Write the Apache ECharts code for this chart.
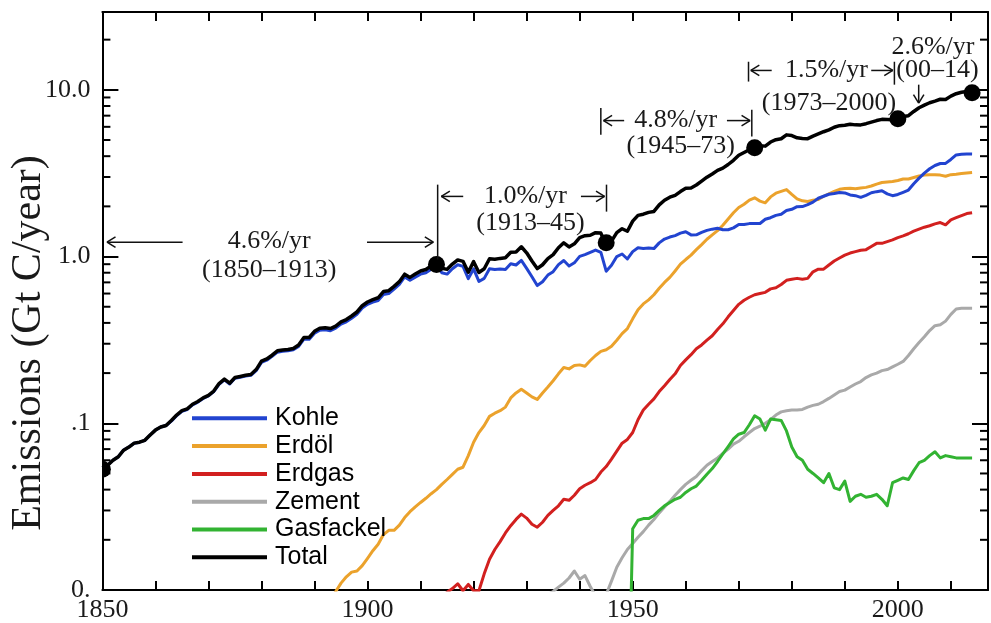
<!DOCTYPE html>
<html><head><meta charset="utf-8">
<script src="https://cdn.jsdelivr.net/npm/echarts@6/dist/echarts.min.js"></script>
<style>html,body{margin:0;padding:0;background:#fff}#c{width:991px;height:623px}</style>
</head><body><div id="c"></div>
<script>
// ---------- data (Gt C / year) ----------
const xTickLabels = ['1850', '1900', '1950', '2000'];
const yTickLabels = {'-2': '0.', '-1': '.1', '0': '1.0', '1': '10.0'};
const minorTickVals = [0.02,0.03,0.04,0.05,0.06,0.07,0.08,0.09,0.2,0.3,0.4,0.5,0.6,0.7,0.8,0.9,2,3,4,5,6,7,8,9,20];

const totalStart = 1850;
const total = [
 0.054,0.056,0.060,0.063,0.069,0.072,0.076,0.077,0.079,0.085,
 0.091,0.095,0.097,0.104,0.112,0.119,0.122,0.130,0.135,0.142,
 0.147,0.156,0.173,0.184,0.174,0.188,0.191,0.194,0.196,0.210,
 0.236,0.243,0.256,0.272,0.275,0.277,0.281,0.295,0.327,0.327,
 0.356,0.372,0.374,0.370,0.383,0.406,0.419,0.440,0.465,0.507,
 0.534,0.552,0.566,0.617,0.624,0.663,0.707,0.784,0.750,0.785,
 0.819,0.836,0.879,0.943,0.850,0.838,0.901,0.955,0.936,0.806,
 0.932,0.803,0.845,0.970,0.963,0.975,0.983,1.062,1.065,1.145,
 1.053,0.940,0.847,0.893,0.973,1.027,1.130,1.209,1.142,1.192,
 1.299,1.334,1.342,1.391,1.383,1.160,1.238,1.392,1.469,1.419,
 1.630,1.767,1.795,1.841,1.865,2.042,2.177,2.270,2.330,2.454,
 2.569,2.580,2.686,2.833,2.995,3.130,3.288,3.393,3.566,3.780,
 4.053,4.208,4.376,4.614,4.623,4.596,4.864,5.026,5.087,5.369,
 5.315,5.152,5.113,5.094,5.280,5.439,5.607,5.752,5.965,6.097,
 6.127,6.217,6.164,6.162,6.266,6.398,6.542,6.651,6.643,6.610,
 6.765,6.927,6.996,7.416,7.807,8.093,8.370,8.566,8.783,8.740,
 9.167,9.481,9.671,9.775,9.855];

const coalStart = 1850;
const coal = [
 0.054,0.056,0.060,0.063,0.069,0.072,0.076,0.077,0.079,0.085,
 0.091,0.095,0.097,0.103,0.111,0.118,0.121,0.129,0.134,0.141,
 0.146,0.155,0.171,0.182,0.172,0.186,0.189,0.192,0.194,0.207,
 0.232,0.239,0.252,0.267,0.270,0.272,0.276,0.289,0.320,0.319,
 0.347,0.362,0.364,0.359,0.372,0.394,0.406,0.426,0.450,0.491,
 0.517,0.533,0.545,0.593,0.600,0.638,0.681,0.755,0.720,0.753,
 0.785,0.800,0.840,0.900,0.800,0.785,0.845,0.893,0.873,0.737,
 0.843,0.709,0.740,0.845,0.836,0.842,0.835,0.905,0.890,0.948,
 0.850,0.757,0.670,0.706,0.774,0.812,0.894,0.947,0.878,0.917,
 1.002,1.028,1.061,1.094,1.060,0.817,0.886,1.000,1.036,0.967,
 1.070,1.129,1.119,1.125,1.116,1.208,1.273,1.309,1.336,1.382,
 1.410,1.349,1.351,1.396,1.435,1.460,1.478,1.448,1.448,1.486,
 1.556,1.559,1.576,1.581,1.579,1.673,1.710,1.766,1.793,1.887,
 1.921,1.992,1.995,2.047,2.120,2.237,2.300,2.364,2.388,2.422,
 2.409,2.341,2.318,2.265,2.331,2.414,2.451,2.480,2.376,2.318,
 2.357,2.429,2.505,2.736,2.955,3.168,3.364,3.517,3.615,3.620,
 3.824,4.070,4.102,4.123,4.117];

const oilStart = 1892;
const oil = [
 0.0075,0.0085,0.0098,0.0110,0.0120,0.0128,0.0130,0.0140,
 0.0155,0.0172,0.0188,0.0215,0.0228,0.0228,0.0245,0.0272,0.0295,0.0315,
 0.0335,0.0355,0.0378,0.0400,0.0430,0.0460,0.0494,0.0530,0.0545,0.0640,
 0.0770,0.0880,0.0970,0.1100,0.1150,0.1190,0.1250,0.1420,0.1520,0.1600,
 0.1520,0.1440,0.1390,0.1520,0.1650,0.1800,0.1980,0.2160,0.2120,0.2220,
 0.2240,0.2200,0.2380,0.2550,0.2700,0.2760,0.2900,0.3150,0.3450,0.3700,
 0.4230,0.4800,0.5200,0.5500,0.5900,0.6450,0.7000,0.7500,0.8200,0.9000,
 0.9600,1.0200,1.1000,1.1800,1.2700,1.3500,1.4300,1.5400,1.6800,1.8300,
 1.9700,2.0600,2.1800,2.2500,2.1500,2.1000,2.2800,2.4000,2.4600,2.5200,
 2.3600,2.2200,2.1600,2.1400,2.1800,2.2000,2.3000,2.3800,2.4600,2.5300,
 2.5600,2.5700,2.5500,2.5800,2.6000,2.6500,2.7200,2.7800,2.8000,2.8200,
 2.8600,2.9200,2.9200,2.9800,3.0400,3.0800,3.1000,3.1000,3.0800,3.0300,
 3.1000,3.1200,3.1500,3.1700,3.1900];

const gasStart = 1914;
const gas = [
 0.0088,0.0097,0.0102,0.0109,0.0099,0.0108,
 0.0099,0.0099,0.0125,0.0153,0.0175,0.0195,0.0220,0.0243,0.0265,0.0285,
 0.0270,0.0248,0.0238,0.0255,0.0280,0.0300,0.0320,0.0350,0.0345,0.0370,
 0.0405,0.0425,0.0440,0.0460,0.0510,0.0550,0.0610,0.0680,0.0760,0.0800,
 0.0880,0.1050,0.1200,0.1300,0.1400,0.1550,0.1680,0.1830,0.1980,0.2220,
 0.2400,0.2580,0.2800,0.2950,0.3150,0.3350,0.3650,0.3950,0.4350,0.4750,
 0.5170,0.5470,0.5700,0.5900,0.6000,0.6100,0.6400,0.6500,0.6800,0.7200,
 0.7300,0.7400,0.7300,0.7400,0.8100,0.8400,0.8400,0.8900,0.9400,0.9800,
 1.0200,1.0500,1.0700,1.0900,1.1000,1.1500,1.2000,1.2000,1.2300,1.2600,
 1.3000,1.3300,1.3700,1.4200,1.4600,1.5000,1.5300,1.5700,1.6000,1.5500,
 1.6600,1.7100,1.7600,1.8100,1.8300];

const cementStart = 1933;
const cement = [
 0.0088,0.0094,0.0098,0.0104,0.0110,0.0118,0.0130,0.0116,0.0122,0.0105,0.0092,0.0086,0.0094,0.0113,0.0137,0.0156,0.0175,
 0.0190,0.0207,0.0224,0.0245,0.0265,0.0290,0.0315,0.0340,0.0370,0.0400,
 0.0430,0.0455,0.0480,0.0520,0.0560,0.0590,0.0620,0.0660,0.0700,0.0750,
 0.0780,0.0830,0.0880,0.0930,0.0960,0.1000,0.1050,0.1120,0.1170,0.1190,
 0.1200,0.1200,0.1210,0.1250,0.1280,0.1300,0.1350,0.1410,0.1480,0.1550,
 0.1580,0.1650,0.1720,0.1780,0.1880,0.1950,0.2000,0.2070,0.2100,0.2180,
 0.2260,0.2350,0.2550,0.2800,0.3050,0.3300,0.3600,0.3850,0.3900,0.4100,
 0.4500,0.4850,0.4900,0.4900,0.4900];

const flareStart = 1949;
const flare = [
 0.0010,0.0233,0.0262,0.0268,0.0268,0.0280,0.0300,0.0320,0.0335,0.0350,0.0360,
 0.0385,0.0405,0.0420,0.0455,0.0495,0.0535,0.0590,0.0655,0.0725,0.0805,
 0.0860,0.0880,0.0980,0.1110,0.1060,0.0910,0.1060,0.1050,0.1040,0.0900,
 0.0720,0.0630,0.0600,0.0530,0.0500,0.0470,0.0440,0.0500,0.0410,0.0400,
 0.0450,0.0340,0.0365,0.0375,0.0360,0.0365,0.0375,0.0350,0.0320,0.0440,
 0.0455,0.0470,0.0460,0.0520,0.0580,0.0600,0.0640,0.0675,0.0620,0.0640,
 0.0630,0.0620,0.0620,0.0620,0.0620];

const dotYears = [1850, 1913, 1945, 1973, 2000, 2014];
const dotVals  = [0.053, 0.895, 1.21, 4.5, 6.7, 9.6];

// annotation arrows: [year1, value1, year2, value2, arrowhead at end]
const annoArrows = [
  [1865.12, 1.22, 1850.86, 1.22, 1],
  [1899.90, 1.22, 1912.41, 1.22, 1],
  [1913.22, 2.70, 1913.22, 0.96, 0],
  [1918.04, 2.295, 1913.91, 2.295, 1],
  [1940.24, 2.295, 1944.69, 2.295, 1],
  [1945.06, 2.70, 1945.06, 1.86, 0],
  [1943.99, 7.77, 1943.99, 5.38, 0],
  [1948.39, 6.54, 1944.50, 6.54, 1],
  [1967.77, 6.54, 1972.14, 6.54, 1],
  [1972.46, 7.59, 1972.46, 5.25, 0],
  [1971.84, 14.74, 1971.84, 11.21, 0],
  [1976.21, 13.07, 1972.27, 13.07, 1],
  [1994.98, 13.07, 1999.05, 13.07, 1],
  [1999.35, 14.74, 1999.35, 10.74, 0],
  [2003.93, 10.74, 2003.93, 8.33, 1]
];
// annotation texts: [text, year, value]
const annoTexts = [
  ['4.6%/yr', 1881.45, 1.23],
  ['(1850–1913)', 1881.45, 0.824],
  ['1.0%/yr', 1929.77, 2.29],
  ['(1913–45)', 1930.71, 1.577],
  ['4.8%/yr', 1958.11, 6.54],
  ['(1945–73)', 1959.05, 4.62],
  ['1.5%/yr', 1986.54, 13.07],
  ['(1973–2000)', 1987.0, 8.36],
  ['2.6%/yr', 2006.61, 18.1],
  ['(00–14)', 2007.46, 13.07]
];

// ---------- chart ----------
const X_MIN = 1850, X_MAX = 2017, Y_MIN = 0.01, Y_MAX = 29.3;
const SERIF = "'Liberation Serif','Times New Roman',serif";
const SANS = "'Liberation Sans',Arial,sans-serif";
const pairs = (start, vals) => vals.map((v, i) => [start + i, v]);

function lineSeries(name, start, vals, color, width, z) {
  return {
    name, type: 'line', data: pairs(start, vals), showSymbol: false, symbol: 'none',
    clip: true, z, silent: true,
    lineStyle: {color, width, join: 'round'}, itemStyle: {color}
  };
}

function renderMinor(params, api) {
  const v = api.value(1);
  const pL = api.coord([X_MIN, v]);
  const pR = api.coord([X_MAX, v]);
  const st = {stroke: '#000', lineWidth: 2};
  return {type: 'group', children: [
    {type: 'line', shape: {x1: pL[0], y1: pL[1], x2: pL[0] + 8, y2: pL[1]}, style: st},
    {type: 'line', shape: {x1: pR[0] - 8, y1: pR[1], x2: pR[0], y2: pR[1]}, style: st}
  ]};
}

function renderDot(params, api) {
  const p = api.coord([api.value(0), api.value(1)]);
  return {type: 'circle', shape: {cx: p[0], cy: p[1], r: 8.5}, style: {fill: '#000'}};
}

function renderArrow(params, api) {
  const p1 = api.coord([api.value(0), api.value(1)]);
  const p2 = api.coord([api.value(2), api.value(3)]);
  const st = {stroke: '#111', lineWidth: 1.5};
  const children = [{type: 'line', shape: {x1: p1[0], y1: p1[1], x2: p2[0], y2: p2[1]}, style: st}];
  if (api.value(4)) {
    const ang = Math.atan2(p2[1] - p1[1], p2[0] - p1[0]);
    const L = 10, a = 0.55;
    [-1, 1].forEach(s => {
      children.push({type: 'line', shape: {
        x1: p2[0], y1: p2[1],
        x2: p2[0] - L * Math.cos(ang + s * a), y2: p2[1] - L * Math.sin(ang + s * a)
      }, style: st});
    });
  }
  return {type: 'group', children};
}

const chart = echarts.init(document.getElementById('c'), null, {renderer: 'canvas'});
chart.setOption({
  animation: false,
  backgroundColor: '#fff',
  grid: {left: 102.4, right: -1.5, top: 12, bottom: 32, containLabel: false},
  xAxis: [{
    type: 'value', min: X_MIN, max: X_MAX, interval: 10, position: 'bottom',
    axisLine: {show: true, lineStyle: {color: '#000', width: 2}},
    axisTick: {show: true, inside: true, length: 9, lineStyle: {color: '#000', width: 2}},
    splitLine: {show: false},
    axisLabel: {
      margin: 7, color: '#1a1a1a', fontFamily: SERIF, fontSize: 26,
      formatter: v => (xTickLabels.indexOf(String(v)) >= 0 ? String(v) : '')
    }
  }, {
    type: 'value', min: X_MIN, max: X_MAX, interval: 10, position: 'top',
    axisLine: {show: true, lineStyle: {color: '#000', width: 2}},
    axisTick: {show: true, inside: true, length: 9, lineStyle: {color: '#000', width: 2}},
    splitLine: {show: false}, axisLabel: {show: false}
  }],
  yAxis: [{
    type: 'log', logBase: 10, min: Y_MIN, max: Y_MAX, position: 'left',
    axisLine: {show: true, lineStyle: {color: '#000', width: 2}},
    axisTick: {show: true, inside: true, length: 16, lineStyle: {color: '#000', width: 2}},
    splitLine: {show: false},
    axisLabel: {
      margin: 12, color: '#1a1a1a', fontFamily: SERIF, fontSize: 26,
      formatter: v => {
        const e = Math.log10(v), r = Math.round(e);
        if (Math.abs(e - r) > 1e-6) return '';
        return yTickLabels[String(r)] || '';
      }
    }
  }, {
    type: 'log', logBase: 10, min: Y_MIN, max: Y_MAX, position: 'right',
    axisLine: {show: true, lineStyle: {color: '#000', width: 2}},
    axisTick: {show: true, inside: true, length: 16, lineStyle: {color: '#000', width: 2}},
    splitLine: {show: false}, axisLabel: {show: false}
  }],
  legend: {
    orient: 'vertical', left: 192, top: 404.4, padding: 0,
    itemWidth: 75, itemHeight: 4, itemGap: 0, icon: 'rect', selectedMode: false,
    data: ['Kohle', 'Erdöl', 'Erdgas', 'Zement', 'Gasfackel', 'Total'],
    textStyle: {fontFamily: SANS, fontSize: 25, color: '#000', lineHeight: 27.8, padding: [0, 0, 0, 3]}
  },
  graphic: [{
    type: 'text', x: 29, y: 343, rotation: Math.PI / 2,
    style: {
      text: 'Emissions (Gt C/year)', fontFamily: SERIF, fontSize: 42, fill: '#1a1a1a',
      align: 'center', verticalAlign: 'middle', textAlign: 'center', textVerticalAlign: 'middle'
    }
  }],
  series: [
    {
      type: 'custom', name: 'minorTicks', renderItem: renderMinor, silent: true, clip: false, z: 3,
      data: minorTickVals.map(v => [X_MIN, v]), encode: {x: 0, y: 1}
    },
    lineSeries('Zement', cementStart, cement, '#a9a9a9', 3, 2),
    lineSeries('Gasfackel', flareStart, flare, '#32b332', 3, 2),
    lineSeries('Erdgas', gasStart, gas, '#d2201f', 3, 2),
    lineSeries('Erdöl', oilStart, oil, '#eba22c', 3, 2),
    lineSeries('Kohle', coalStart, coal, '#2244d0', 3, 2),
    lineSeries('Total', totalStart, total, '#000000', 3.5, 2),
    {
      type: 'custom', name: 'dots', renderItem: renderDot, silent: true, clip: true, z: 4,
      data: dotYears.map((y, i) => [y, dotVals[i]]), encode: {x: 0, y: 1}
    },
    {
      type: 'custom', name: 'arrows', renderItem: renderArrow, silent: true, clip: false, z: 5,
      data: annoArrows, encode: {x: [0, 2], y: [1, 3]}
    },
    {
      type: 'scatter', name: 'texts', silent: true, z: 5,
      data: annoTexts.map(t => ({name: t[0], value: [t[1], t[2]]})),
      symbol: 'circle', symbolSize: 0.1, itemStyle: {color: 'transparent', opacity: 1},
      label: {show: true, position: 'inside', formatter: '{b}', fontFamily: SERIF, fontSize: 26, color: '#1a1a1a', opacity: 1}
    }
  ]
});
</script></body></html>
